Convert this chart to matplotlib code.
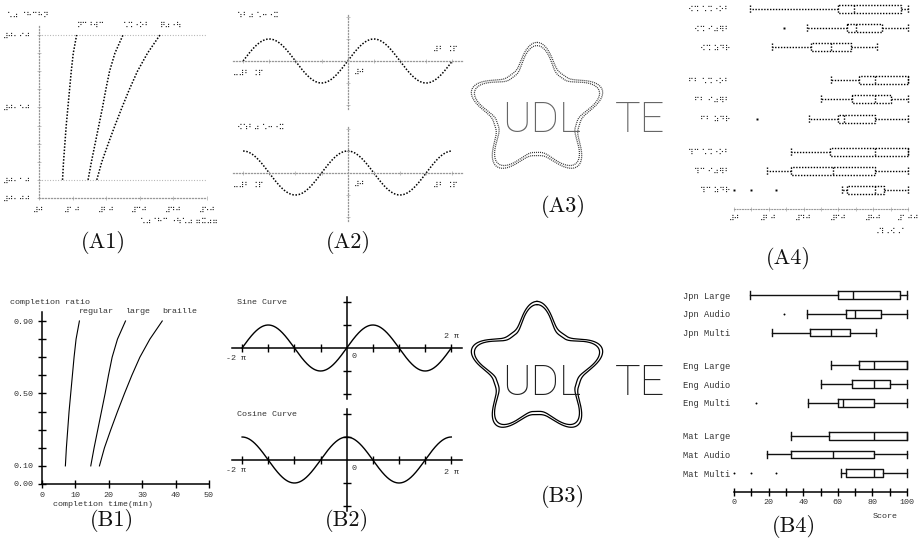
import numpy as np
import matplotlib
matplotlib.use("Agg")
import matplotlib.pyplot as plt

W, H = 919, 553
fig = plt.figure(figsize=(W / 100, H / 100), dpi=100)
fig.patch.set_facecolor("white")

MONO = ["Liberation Mono", "DejaVu Sans Mono"]
BRAILLE = ["DejaVu Sans"]
SERIF = ["cmr10", "DejaVu Serif"]
THIN = ["Roboto", "DejaVu Sans"]

# ---------------- data ----------------
# completion curves: time (min) needed to reach each completion ratio
completion_ratio = [0.10, 0.20, 0.30, 0.40, 0.50, 0.60, 0.70, 0.80, 0.90]
time_regular = [7.0, 7.3, 7.7, 8.1, 8.6, 9.1, 9.6, 10.2, 11.2]
time_large = [14.6, 15.6, 16.7, 17.8, 18.9, 19.9, 21.0, 22.6, 25.0]
time_braille = [17.2, 18.7, 20.6, 22.6, 24.7, 26.9, 29.3, 32.3, 36.0]
curve_names = ["regular", "large", "braille"]
curve_names_br = ["⠝⠉⠘⠺⠉", "⠡⠩⠐⠕⠃", "⠟⠴⠐⠳"]
time_ticks = [0, 10, 20, 30, 40, 50]
time_ticks_br = ["⠼⠚", "⠼⠁⠚", "⠼⠃⠚", "⠼⠉⠚", "⠼⠙⠚", "⠼⠑⠚"]
ratio_ticks = [0.0, 0.1, 0.2, 0.3, 0.4, 0.5, 0.6, 0.7, 0.8, 0.9]
ratio_labels = {0.0: "0.00", 0.1: "0.10", 0.5: "0.50", 0.9: "0.90"}
ratio_labels_br = {0.0: "⠼⠚⠂⠚⠚", 0.1: "⠼⠚⠂⠁⠚", 0.5: "⠼⠚⠂⠑⠚", 0.9: "⠼⠚⠂⠊⠚"}
ratio_title, ratio_title_br = "completion ratio", "⠡⠴ ⠈⠓⠉⠓⠝"
time_title, time_title_br = "completion time(min)", "⠡⠴⠈⠓⠉ ⠐⠳⠡⠴ ⠶⠭⠴⠶"

# trigonometric curves
wave_x = np.linspace(-2 * np.pi, 2 * np.pi, 721)
wave_titles = ["Sine Curve", "Cosine Curve"]
wave_titles_br = ["⠱⠃⠴ ⠡⠒⠐⠭", "⠪⠱⠃⠴ ⠡⠒⠐⠭"]

# scores by subject / format
score_rows = ["Jpn Large", "Jpn Audio", "Jpn Multi",
              "Eng Large", "Eng Audio", "Eng Multi",
              "Mat Large", "Mat Audio", "Mat Multi"]
score_rows_br = ["⠪⠩ ⠡⠩⠐⠕⠃", "⠪⠩ ⠊⠴⠻⠃", "⠪⠩ ⠵⠙⠗",
                 "⠋⠃ ⠡⠩⠐⠕⠃", "⠋⠃ ⠊⠴⠻⠃", "⠋⠃ ⠵⠙⠗",
                 "⠹⠉ ⠡⠩⠐⠕⠃", "⠹⠉ ⠊⠴⠻⠃", "⠹⠉ ⠵⠙⠗"]
score_whislo = [9, 42, 22, 56, 50, 43, 33, 19, 62]
score_q1 = [60, 65, 44, 72, 68, 60, 55, 33, 65]
score_med = [69, 70, 56, 81, 81, 63, 81, 57, 81]
score_q3 = [96, 85, 67, 100, 90, 81, 100, 81, 86]
score_whishi = [100, 100, 82, 100, 100, 100, 100, 100, 100]
score_fliers = [[], [29], [], [], [], [13], [], [], [0, 10, 24]]
score_ticks = list(range(0, 101, 10))
score_ticklabels = {0: "0", 20: "20", 40: "40", 60: "60", 80: "80", 100: "100"}
score_ticklabels_br = {0: "⠼⠚", 20: "⠼⠃⠚", 40: "⠼⠙⠚", 60: "⠼⠋⠚", 80: "⠼⠓⠚", 100: "⠼⠁⠚⠚"}
score_title, score_title_br = "Score", "⠠⠹⠠⠪⠠⠁"

star_words = ["UDL", "TE"]


# ---------------- helpers ----------------
def px_axes(left, top, right, bottom):
    ax = fig.add_axes([left / W, 1 - bottom / H, (right - left) / W, (bottom - top) / H])
    ax.patch.set_alpha(0)
    return ax


def span(p_lo, p_hi, v0, p0, v1, p1):
    k = (v1 - v0) / (p1 - p0)
    return v0 + (p_lo - p0) * k, v0 + (p_hi - p0) * k


def ftext(x, y, s, **kw):
    kw.setdefault("va", "center")
    return fig.text(x / W, 1 - y / H, s, **kw)


def mono(x, y, s, size=6, **kw):
    return ftext(x, y, s, family=MONO, fontsize=size, color="#333", **kw)


def brl(x, y, s, size=5.5, **kw):
    return ftext(x, y, s, family=BRAILLE, fontsize=size, color="#222", **kw)


DOT = (0, (1, 1.1))
GRAY_DOT = (0, (0.8, 1.6))


# ---------------- completion curves ----------------
def completion_panel(braille, x0px, x50px, y0px, y09px, box):
    ax = px_axes(*box)
    ax.set_xlim(*span(box[0], box[2], 0, x0px, 50, x50px))
    ax.set_ylim(*span(box[3], box[1], 0, y0px, 0.9, y09px))
    for s in ("top", "right"):
        ax.spines[s].set_visible(False)
    ax.spines["left"].set_position(("data", 0))
    ax.spines["left"].set_bounds(0, 0.95)
    ax.spines["bottom"].set_position(("data", 0))
    ax.spines["bottom"].set_bounds(0, 50)
    labels = ratio_labels_br if braille else ratio_labels
    ylab = [labels.get(round(v, 1), "") for v in ratio_ticks]
    if braille:
        for s in ("left", "bottom"):
            ax.spines[s].set_linestyle(GRAY_DOT)
            ax.spines[s].set_color("#999")
            ax.spines[s].set_linewidth(0.9)
        ax.set_xticks(time_ticks, time_ticks_br, family=BRAILLE, fontsize=5.5, color="#222")
        ax.set_yticks(ratio_ticks, ylab, family=BRAILLE, fontsize=5.5, color="#222")
        ax.tick_params(direction="inout", length=3, width=0.5, color="#aaa", pad=4)
        # tactile reference lines and dot grid
        for v in (0.1, 0.9):
            ax.plot([0, 50], [v, v], ls=GRAY_DOT, color="#aaa", lw=0.8)
        gx, gy = np.meshgrid(time_ticks[1:], ratio_ticks[2:9])
        ax.scatter(gx.ravel(), gy.ravel(), s=0.35, marker="s", color="#bbb", lw=0)
        style = dict(color="black", lw=1.1, ls=DOT)
    else:
        ax.set_xticks(time_ticks, [str(t) for t in time_ticks], family=MONO, fontsize=6, color="#333")
        ax.set_yticks(ratio_ticks, ylab, family=MONO, fontsize=6, color="#333")
        ax.tick_params(direction="inout", length=6, width=1.0, pad=3)
        for s in ("left", "bottom"):
            ax.spines[s].set_linewidth(1.1)
        style = dict(color="black", lw=0.8)
    for t, name_en, name_br in zip((time_regular, time_large, time_braille),
                                   curve_names, curve_names_br):
        ax.plot(t, completion_ratio, **style)
        lab = name_br if braille else name_en
        ax.text(t[-1], 0.955, lab, ha="left", va="center",
                family=BRAILLE if braille else MONO,
                fontsize=5.5 if braille else 6, color="#222" if braille else "#333")
    return ax


completion_panel(True, 39, 207, 198, 35, (0, 20, 228, 215))
brl(7, 15, ratio_title_br, ha="left")
brl(218, 221, time_title_br, ha="right")

completion_panel(False, 42, 209, 484, 321, (0, 305, 228, 500))
mono(10, 303, ratio_title, ha="left")
mono(53, 505, time_title, ha="left")


# ---------------- trigonometric curves ----------------
def wave_panel(braille, fn, title, ox, oy, unit_y):
    k = 104.6 / (2 * np.pi)
    box = (ox - 122, oy - 56, ox + 122, oy + 56)
    ax = px_axes(*box)
    ax.set_xlim(*span(box[0], box[2], 0, ox, 1, ox + k))
    ax.set_ylim(*span(box[3], box[1], 0, oy, 1, oy - unit_y))
    for s in ("top", "right"):
        ax.spines[s].set_visible(False)
    ax.spines["left"].set_position(("data", 0))
    ax.spines["left"].set_bounds(-2.2, 2.2)
    ax.spines["bottom"].set_position(("data", 0))
    ax.spines["bottom"].set_bounds(-2.2 * np.pi, 2.2 * np.pi)
    xt = [i * np.pi / 2 for i in range(-4, 5) if i != 0]
    ax.set_xticks(xt, [""] * len(xt))
    ax.set_yticks([-2, -1, 1, 2], [""] * 4)
    y = fn(wave_x)
    if braille:
        for s in ("left", "bottom"):
            ax.spines[s].set_linestyle(GRAY_DOT)
            ax.spines[s].set_color("#999")
            ax.spines[s].set_linewidth(0.9)
        ax.tick_params(direction="inout", length=3, width=0.5, color="#aaa")
        ax.plot(wave_x, y, color="black", lw=1.1, ls=DOT)
    else:
        for s in ("left", "bottom"):
            ax.spines[s].set_linewidth(1.1)
        ax.tick_params(direction="inout", length=6, width=1.0)
        ax.plot(wave_x, y, color="black", lw=1.0)
    end_above = fn(2 * np.pi) < 0.5
    if braille:
        brl(237, oy - 45, title, ha="left")
        brl(233, oy + 12, "⠤⠼⠃ ⠨⠏", ha="left")
        brl(458, oy - 11 if end_above else oy + 12, "⠼⠃ ⠨⠏", ha="right")
        brl(354, oy + 11, "⠼⠚", ha="left")
    else:
        mono(237, oy - 45, title, ha="left")
        mono(226, oy + 11, "-2 π", ha="left")
        mono(459, oy - 11 if end_above else oy + 12, "2 π", ha="right")
        mono(352, oy + 8, "0", ha="left")
    return ax


wave_panel(True, np.sin, wave_titles_br[0], 347.7, 61, 22)
wave_panel(True, np.cos, wave_titles_br[1], 347.7, 173, 22)
wave_panel(False, np.sin, wave_titles[0], 346.7, 348, 23)
wave_panel(False, np.cos, wave_titles[1], 346.7, 460, 23)


# ---------------- star emblem ----------------
def star_radius(psi, r_tip=67.0, r_valley=43.0, power=1.6):
    g = ((1 + np.cos(5 * psi)) / 2) ** power
    return r_valley + (r_tip - r_valley) * g


def star_panel(braille, cx, cy, text_base):
    box = (455, cy - 80, 680, cy + 80)
    ax = px_axes(*box)
    ax.set_xlim(box[0], box[2])
    ax.set_ylim(box[3], box[1])
    ax.axis("off")
    psi = np.linspace(0, 2 * np.pi, 1441)
    r = star_radius(psi)
    for off in (-1.6, 1.6):
        xs = cx + (r + off) * np.sin(psi)
        ys = cy - (r + off) * np.cos(psi)
        if braille:
            ax.plot(xs, ys, color="#333", lw=0.9, ls=(0, (0.8, 0.8)))
        else:
            ax.plot(xs, ys, color="black", lw=0.9)
    col = "#666" if braille else "#222"
    ax.text(502, text_base, star_words[0], ha="left", va="baseline",
            family=THIN, fontweight=100, fontsize=31, color=col)
    ax.text(615, text_base, star_words[1], ha="left", va="baseline",
            family=THIN, fontweight=100, fontsize=31, color=col)


star_panel(True, 537, 111, 132)
star_panel(False, 537, 370, 395)


# ---------------- score box plots ----------------
row_pos = [g * 3.75 + i for g in range(3) for i in range(3)]


def score_panel(braille, row0px, axispx, x0px, x100px):
    axis_row = 10.5
    box = (733, row0px - 14, 915, axispx + 8)
    ax = px_axes(*box)
    ax.set_xlim(*span(box[0], box[2], 0, x0px, 100, x100px))
    ax.set_ylim(*span(box[3], box[1], 0, row0px, axis_row, axispx))
    stats = []
    for i in range(len(score_rows)):
        stats.append(dict(med=score_med[i], q1=score_q1[i], q3=score_q3[i],
                          whislo=score_whislo[i], whishi=score_whishi[i],
                          fliers=score_fliers[i], label=score_rows[i]))
    if braille:
        ls = dict(color="black", lw=1.0, ls=DOT)
        flier = dict(marker="s", markersize=1.4, markerfacecolor="black",
                     markeredgecolor="none", linestyle="none")
    else:
        ls = dict(color="#111", lw=1.0)
        flier = dict(marker="o", markersize=1.4, markerfacecolor="black",
                     markeredgecolor="none", linestyle="none")
    art = ax.bxp(stats, positions=row_pos, orientation="horizontal", widths=0.42,
                 capwidths=0.42, boxprops=ls, whiskerprops=ls, capprops=ls,
                 medianprops=ls, flierprops=flier, manage_ticks=False)
    for line in art["fliers"]:
        line.set_clip_on(False)
    for s in ("top", "right", "left"):
        ax.spines[s].set_visible(False)
    ax.spines["bottom"].set_position(("data", axis_row))
    ax.spines["bottom"].set_bounds(0, 100)
    if braille:
        ax.set_yticks(row_pos, score_rows_br, family=BRAILLE, fontsize=5.5, color="#222")
        xl = [score_ticklabels_br.get(t, "") for t in score_ticks]
        ax.set_xticks(score_ticks, xl, family=BRAILLE, fontsize=5.5, color="#222")
        ax.spines["bottom"].set_linestyle(GRAY_DOT)
        ax.spines["bottom"].set_color("#999")
        ax.tick_params(axis="x", direction="inout", length=3, width=0.5, color="#aaa", pad=2)
    else:
        ax.set_yticks(row_pos, score_rows, family=MONO, fontsize=6.3, color="#333")
        xl = [score_ticklabels.get(t, "") for t in score_ticks]
        ax.set_xticks(score_ticks, xl, family=MONO, fontsize=6, color="#333")
        ax.spines["bottom"].set_linewidth(1.1)
        ax.tick_params(axis="x", direction="inout", length=6, width=1.0, pad=2)
    ax.tick_params(axis="y", length=0, pad=2)
    return ax


score_panel(True, 9, 209, 734, 908)
brl(907, 231, score_title_br, ha="right")
score_panel(False, 295, 492, 734, 907)
mono(898, 516, score_title, ha="right")


# ---------------- panel captions ----------------
for cap, x, y in [("(A1)", 103, 242), ("(A2)", 348, 242), ("(A3)", 563, 207),
                  ("(A4)", 788, 258), ("(B1)", 112, 520), ("(B2)", 347, 520),
                  ("(B3)", 563, 497), ("(B4)", 794, 527)]:
    ftext(x, y, cap, ha="center", family=SERIF, fontsize=16, color="#111")

fig.savefig("out.png", dpi=100)
